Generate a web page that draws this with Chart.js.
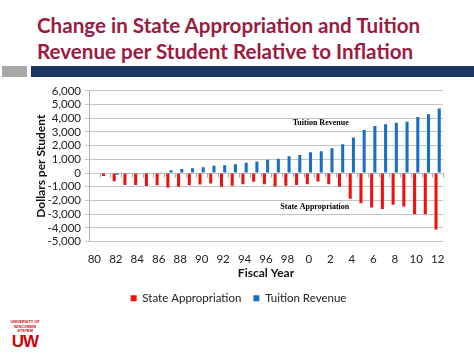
<!DOCTYPE html>
<html>
<head>
<meta charset="utf-8">
<script src="https://cdn.jsdelivr.net/npm/chart.js@4.4.0/dist/chart.umd.min.js"></script>
<style>
  html, body { margin: 0; padding: 0; background: #fff; }
  body { width: 474px; height: 353px; position: relative; overflow: hidden; font-family: Lato, sans-serif; }
  #title { position: absolute; left: 37px; top: 12px; color: #9b1b3f; font-weight: bold; font-size: 20.6px; line-height: 26px; white-space: nowrap; }
  #band { position: absolute; left: 31px; top: 66px; width: 443px; height: 11px; background: #1c3562; }
  #tag { position: absolute; left: 2px; top: 66px; width: 25px; height: 11px; background: #a8a8a8; }
  #chartBox { position: absolute; left: 0; top: 80px; width: 474px; height: 240px; }
  #logo { position: absolute; left: 9px; top: 320px; width: 32px; color: #c5050c; text-align: center; font-family: "Liberation Sans", sans-serif; }
  #logo .small { font-size: 3.8px; font-weight: bold; line-height: 4.5px; }
  #logo .big { font-size: 17px; font-weight: bold; line-height: 15px; letter-spacing: -1px; }
</style>
</head>
<body>
<div id="title">Change in State Appropriation and Tuition<br>Revenue per Student Relative to Inflation</div>
<div id="tag"></div>
<div id="band"></div>
<div id="chartBox"><canvas id="chart"></canvas></div>
<div id="logo"><div class="small">UNIVERSITY OF<br>WISCONSIN SYSTEM</div><div class="big">UW</div></div>
<script>
// fiscal years (1980 - 2012)
var years = ['80', '81', '82', '83', '84', '85', '86', '87', '88', '89',
             '90', '91', '92', '93', '94', '95', '96', '97', '98', '99',
             '0', '1', '2', '3', '4', '5', '6', '7', '8', '9', '10', '11', '12'];

// change per student, dollars
var stateAppropriation = [0, -220, -600, -880, -880, -950, -900, -1050, -1000, -900,
                          -840, -760, -1000, -930, -810, -640, -810, -980, -920, -880,
                          -810, -620, -810, -1000, -1870, -2210, -2520, -2620, -2320, -2450,
                          -3010, -3010, -4120];
var tuitionRevenue = [0, 0, -120, -60, -60, 0, 30, 200, 300, 350,
                      430, 540, 570, 640, 750, 850, 970, 1040, 1230, 1320,
                      1510, 1600, 1810, 2100, 2600, 3140, 3430, 3570, 3680, 3740,
                      4100, 4290, 4710];

// labels shown on the x axis
var xTickLabels = ['80', '82', '84', '86', '88', '90', '92', '94', '96', '98',
                   '0', '2', '4', '6', '8', '10', '12'];

// in-chart notes (category index, value)
var notes = [
    { text: 'Tuition Revenue', index: 21.1, value: 3690 },
    { text: 'State Appropriation', index: 20.55, value: -2500 }
];

var extras = {
    id: 'extras',
    beforeDatasetsDraw: function (chart) {
        var x = chart.scales.x, y = chart.scales.y, ctx = chart.ctx;
        var y0 = Math.round(y.getPixelForValue(0)) + 0.5;
        var w = (x.right - x.left) / years.length;
        ctx.save();
        ctx.strokeStyle = '#a6a6a6';
        ctx.lineWidth = 1;
        ctx.beginPath();
        for (var i = 0; i <= years.length; i++) {
            var px = Math.round(x.left + i * w) + 0.5;
            ctx.moveTo(px, y0);
            ctx.lineTo(px, y0 + 4);
        }
        ctx.stroke();
        ctx.restore();
    },
    afterDatasetsDraw: function (chart) {
        var x = chart.scales.x, y = chart.scales.y, ctx = chart.ctx;
        ctx.save();
        ctx.fillStyle = '#000';
        ctx.font = 'bold 8px "Liberation Serif", serif';
        ctx.textAlign = 'center';
        ctx.textBaseline = 'middle';
        notes.forEach(function (n) {
            ctx.fillText(n.text, x.getPixelForValue(n.index), y.getPixelForValue(n.value));
        });
        ctx.restore();
    }
};

var ctx = document.getElementById('chart').getContext('2d');
var chart = new Chart(ctx, {
    type: 'bar',
    data: {
        labels: years,
        datasets: [{
            label: 'State Appropriation',
            data: stateAppropriation,
            backgroundColor: '#ee1111'
        }, {
            label: 'Tuition Revenue',
            data: tuitionRevenue,
            backgroundColor: '#1a6fc4'
        }]
    },
    options: {
        responsive: true,
        maintainAspectRatio: false,
        animation: false,
        categoryPercentage: 0.6,
        barPercentage: 0.95,
        layout: { padding: { top: 9, right: 31, left: 34, bottom: 6 } },
        plugins: {
            legend: {
                position: 'bottom',
                labels: {
                    boxWidth: 6,
                    boxHeight: 6,
                    padding: 12,
                    color: '#222',
                    font: { family: 'Lato', size: 11.5 }
                }
            },
            tooltip: { enabled: false }
        },
        scales: {
            x: {
                grid: { display: false },
                border: { display: false },
                ticks: {
                    autoSkip: false,
                    maxRotation: 0,
                    color: '#222',
                    font: { family: 'Lato', size: 11.5 },
                    callback: function (v, i) {
                        return xTickLabels.indexOf(years[i]) >= 0 ? years[i] : '';
                    }
                },
                title: {
                    display: true,
                    text: 'Fiscal Year',
                    color: '#111',
                    font: { family: 'Lato', size: 12, weight: 'bold' },
                    padding: { top: 2, bottom: 0 }
                },
                afterFit: function (scale) { scale.height = 39; }
            },
            y: {
                min: -5000,
                max: 6000,
                grid: { color: '#c4c4c4', tickLength: 4 },
                border: { color: '#b0b0b0' },
                ticks: {
                    stepSize: 1000,
                    autoSkip: false,
                    color: '#222',
                    padding: 4,
                    font: { family: 'Lato', size: 11.5 },
                    callback: function (v) { return v.toLocaleString('en-US'); }
                },
                title: {
                    display: true,
                    text: 'Dollars per Student',
                    color: '#111',
                    font: { family: 'Lato', size: 12, weight: 'bold' },
                    padding: { top: 0, bottom: 0 }
                },
                afterFit: function (scale) { scale.width = 55; }
            }
        }
    },
    plugins: [extras]
});
</script>
</body>
</html>
